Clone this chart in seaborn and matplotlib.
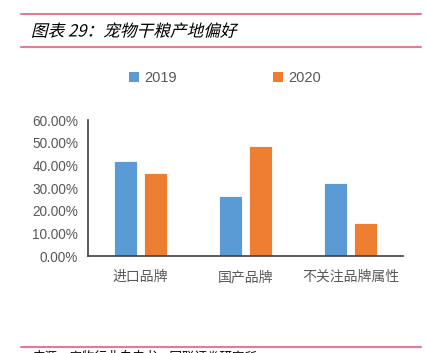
import pandas as pd
import seaborn as sns
import matplotlib.pyplot as plt
import matplotlib.ticker as mtick
import matplotlib.patheffects as pe
from matplotlib.transforms import Affine2D
from matplotlib.lines import Line2D
from matplotlib.patches import Patch

categories = ["进口品牌", "国产品牌", "不关注品牌属性"]
years = ["2019", "2020"]
values_2019 = [41.8, 26.5, 32.0]
values_2020 = [36.8, 48.6, 14.6]
yticks = [0, 10, 20, 30, 40, 50, 60]

colors = {"2019": "#5B9BD5", "2020": "#ED7D31"}
pink = "#E57A92"
gray = "#595959"

sns.set_theme(style="white")
plt.rcParams["font.family"] = ["Noto Sans CJK SC", "DejaVu Sans"]

df = pd.DataFrame({
    "cat": categories * 2,
    "year": [years[0]] * 3 + [years[1]] * 3,
    "value": values_2019 + values_2020,
})


class Oblique(pe.AbstractPathEffect):
    """Fake italic for CJK title text."""
    def __init__(self, anchor, shear=0.25):
        super().__init__()
        self.anchor = anchor
        self.shear = shear

    def draw_path(self, renderer, gc, tpath, affine, rgbFace=None):
        x0, y0 = self.anchor
        sk = Affine2D().translate(-x0, -y0) + Affine2D([[1, self.shear, 0], [0, 1, 0], [0, 0, 1]]) + Affine2D().translate(x0, y0)
        renderer.draw_path(gc, tpath, affine + sk, rgbFace)


fig = plt.figure(figsize=(4.28, 3.53), dpi=100)
ax = fig.add_axes([88 / 428, 97 / 353, 315 / 428, 136 / 353])

sns.barplot(data=df, x="cat", y="value", hue="year", palette=colors, saturation=1,
            width=0.571, gap=0.23, edgecolor="white", linewidth=0.6,
            legend=False, ax=ax)

ax.set_xlim(-0.5, 2.5)
ax.set_ylim(0, 60)
ax.set_yticks(yticks)
ax.yaxis.set_major_formatter(mtick.PercentFormatter(decimals=2))
ax.set_xticks([-0.5, 0.5, 1.5, 2.5], minor=True)
ax.tick_params(axis="x", which="major", length=0, pad=10, labelsize=10, labelcolor=gray)
ax.tick_params(axis="x", which="minor", length=4, width=1, color="#404040", direction="out")
ax.tick_params(axis="y", length=4, width=1, color="#404040", direction="out",
               labelsize=9.8, labelcolor=gray, pad=3)
for lab in ax.get_yticklabels():
    lab.set_family(["Liberation Sans", "DejaVu Sans"])
ax.set_xlabel("")
ax.set_ylabel("")
for s in ["top", "right"]:
    ax.spines[s].set_visible(False)
for s in ["left", "bottom"]:
    ax.spines[s].set_color("#404040")
    ax.spines[s].set_linewidth(1.2)

# legend
handles = [Patch(facecolor=colors[y], edgecolor="none") for y in years]
leg_pos = [116, 260]
for h, y, xpos in zip(handles, years, leg_pos):
    leg = fig.legend([h], [y], loc="center left", bbox_to_anchor=(xpos / 428, 1 - 78 / 353),
                     frameon=False, handlelength=0.7, handleheight=0.7, handletextpad=0.35,
                     prop={"family": ["Liberation Sans"], "size": 10.5})
    for t in leg.get_texts():
        t.set_color(gray)

# header and footer lines
for yy in (14, 47, 347):
    fig.add_artist(Line2D([21 / 428, 421 / 428], [1 - yy / 353] * 2, color=pink, lw=1.5))

tx, ty = 32, 1 - 32 / 353
title = fig.text(tx / 428, ty, "图表 29：宠物干粮产地偏好", fontsize=12, color="black",
                 va="center", ha="left")
title.set_path_effects([Oblique((tx, ty * 353), 0.25)])

fig.text(33 / 428, 1 - 351 / 353, "来源：宠物行业白皮书，国联证券研究所", fontsize=9,
         color="black", va="top", ha="left")

fig.savefig("out.png", dpi=100)
